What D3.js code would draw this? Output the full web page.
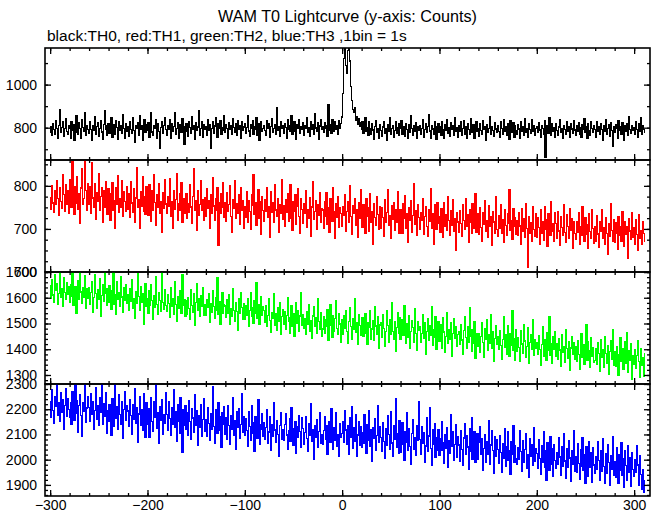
<!DOCTYPE html>
<html><head><meta charset="utf-8">
<script src="https://cdn.jsdelivr.net/npm/d3@7"></script>
<style>body{margin:0;background:#fff}svg{display:block}text{font-family:"Liberation Sans",Arial,Helvetica,sans-serif}</style>
</head><body><svg id="c" width="661" height="515"></svg>
<script>
const titleText = "WAM T0 Lightcurve (y-axis: Counts)";
const subtitleText = "black:TH0, red:TH1, green:TH2, blue:TH3 ,1bin = 1s";
const binStart = -300;
const binSize = 1;
const xDomain = [-305.3, 316.3];
const xMajorTicks = [-300, -200, -100, 0, 100, 200, 300];
const xMinorStep = 20;

const th0 = [
780,805,762,818,790,771,835,798,752,812,884,776,801,829,760,795,843,781,768,810,
797,752,826,789,813,741,804,858,779,770,822,795,748,836,801,784,869,763,808,791,
775,827,793,740,812,786,851,769,804,822,758,797,833,780,746,815,878,792,765,809,
821,773,799,847,757,790,814,768,835,801,744,826,787,809,772,862,795,751,818,783,
806,760,829,792,775,846,788,733,811,797,823,766,854,790,812,742,801,836,779,815,
788,824,757,802,871,780,766,810,795,839,752,818,784,706,800,829,774,811,847,790,
763,808,792,836,751,819,782,805,868,771,797,825,748,813,789,776,842,799,721,807,
818,785,760,829,802,774,851,793,811,747,822,786,803,881,766,798,830,757,814,791,
805,764,838,789,814,702,796,826,773,808,845,781,755,817,798,832,769,802,787,856,
779,813,796,751,824,791,808,767,842,800,777,819,762,835,794,811,748,827,786,803,
820,772,801,858,785,759,814,798,832,769,806,791,849,764,817,739,802,828,781,795,
810,787,766,833,799,821,754,806,842,776,798,815,770,893,789,804,761,826,797,812,
775,819,801,748,836,792,809,781,854,768,803,827,784,747,816,798,839,772,806,790,
823,765,811,797,846,780,802,759,829,793,814,771,866,799,785,822,744,808,836,791,
803,778,824,796,812,761,907,789,815,773,838,800,781,826,794,812,770,831,798,820,
850,960,1120,1190,1090,1050,1160,1195,1110,990,925,885,870,895,835,852,815,843,806,824,
791,830,775,812,846,784,801,763,826,795,770,818,789,744,807,832,779,797,752,814,
786,759,803,828,772,794,741,815,781,849,768,797,812,755,788,826,774,802,763,819,
795,832,770,807,784,759,821,792,748,813,779,857,798,766,809,784,825,751,803,788,
812,769,798,836,757,791,818,776,804,863,785,752,810,794,771,829,787,745,806,820,
778,803,764,827,793,749,815,787,838,772,799,759,824,790,811,766,847,783,801,757,
809,784,826,763,797,835,771,806,752,818,790,767,842,795,776,813,748,801,829,782,
796,758,819,787,771,834,792,806,743,815,780,798,852,769,803,786,760,823,794,777,
812,781,753,826,797,769,839,784,805,762,818,791,746,833,776,800,822,757,809,788,
771,815,794,750,828,785,803,766,841,779,798,757,818,790,774,836,782,809,764,797,
806,776,822,789,753,812,795,769,831,660,787,808,772,845,791,763,817,784,799,755,
820,786,764,803,838,777,795,751,812,790,769,827,783,806,757,819,794,772,834,789,
763,808,785,822,771,799,756,815,792,840,776,803,749,817,786,764,829,795,778,811,
790,754,826,781,803,767,818,793,742,809,785,836,771,798,815,760,824,788,712,806,
779,813,795,752,831,787,806,769,824,797,741,812,783,819,766,850,792,775,808,786,
802,768,829,791,755,817,784,846,770,811,793,776];

const th1 = [
772,745,801,760,738,789,756,812,770,731,795,764,748,826,779,741,803,758,790,736,
815,768,749,857,776,734,798,760,822,745,781,712,795,839,758,771,862,790,743,806,
757,798,735,853,772,749,806,721,784,763,829,742,775,797,716,788,751,810,769,734,
793,752,720,781,808,744,766,702,795,758,823,739,771,750,812,728,787,763,741,799,
746,781,727,809,760,738,794,715,772,843,749,767,701,786,752,821,740,775,733,798,
769,731,802,755,718,788,744,827,761,709,779,750,806,735,764,691,784,747,815,758,
737,774,752,816,729,763,701,789,745,768,829,720,758,783,742,807,714,771,753,736,
781,724,759,738,802,751,713,776,840,742,765,697,788,731,757,812,744,769,719,773,
728,793,747,765,701,779,736,818,753,720,771,744,797,662,760,735,782,749,807,726,
762,718,784,740,756,801,729,691,769,747,813,724,758,736,779,710,795,743,766,702,
751,727,786,714,765,740,698,779,754,826,733,761,709,748,792,725,763,687,774,742,
718,769,741,795,726,752,680,787,738,760,715,803,744,729,771,693,757,736,814,721,
755,706,768,739,781,717,749,802,724,696,763,741,779,710,752,794,728,689,770,745,
712,758,737,790,704,746,725,772,683,751,809,722,740,766,698,757,731,785,714,748,
744,701,763,729,784,711,750,692,771,736,718,797,740,679,758,727,775,703,749,736,
707,752,731,779,694,740,763,715,801,728,688,754,736,770,709,745,680,762,725,791,
738,703,757,722,689,771,730,749,694,783,716,741,665,758,727,709,776,733,698,752,
701,749,726,683,768,715,739,792,708,731,679,754,722,760,696,745,716,787,730,689,
745,712,690,758,724,777,701,736,668,749,720,766,693,731,806,711,742,684,757,726,
698,739,720,771,687,729,751,706,683,744,718,793,702,735,665,756,727,700,762,713,
729,693,748,715,680,761,707,734,697,776,719,684,742,709,768,695,723,651,738,716,
691,742,712,683,757,720,698,771,705,733,668,746,714,689,759,726,701,782,692,735,
724,687,749,703,672,738,711,766,694,720,680,753,707,729,662,741,716,690,775,698,
682,731,701,757,690,722,669,745,708,684,736,713,792,697,720,675,748,705,727,688,
719,684,738,707,665,747,694,723,680,759,701,611,729,690,714,671,752,699,683,735,
681,726,703,665,744,690,717,673,752,698,721,659,735,708,686,763,694,712,670,739,
712,679,741,695,662,728,704,686,757,691,669,733,706,678,748,697,723,655,716,689,
676,718,692,739,663,705,684,752,697,671,726,688,711,654,735,694,679,744,701,667,
705,672,731,688,657,716,694,746,679,702,663,727,690,641,712,683,758,696,670,721,
669,714,690,652,729,684,706,672,741,693,660,718,687,705,631,723,695,676,738,681,
702,664,721,687,650,733,678,697,665,716,689,672];

const th2 = [
1648,1597,1672,1611,1583,1690,1629,1655,1574,1618,1701,1602,1637,1566,1679,1621,1593,1660,1614,1645,
1583,1652,1606,1697,1571,1629,1644,1538,1612,1668,1595,1705,1622,1579,1641,1603,1687,1560,1634,1599,
1641,1576,1620,1663,1542,1601,1688,1615,1559,1632,1594,1676,1528,1610,1650,1587,1703,1618,1571,1636,
1582,1647,1603,1556,1629,1698,1574,1611,1537,1662,1592,1620,1568,1684,1603,1545,1639,1589,1652,1577,
1613,1549,1637,1586,1671,1560,1598,1521,1625,1579,1694,1604,1551,1642,1583,1617,1498,1596,1656,1568,
1597,1540,1626,1572,1653,1589,1514,1608,1563,1681,1575,1537,1619,1590,1548,1702,1583,1556,1631,1570,
1548,1611,1579,1523,1640,1566,1598,1535,1662,1574,1507,1603,1560,1627,1582,1541,1688,1569,1594,1528,
1589,1537,1602,1558,1514,1633,1571,1545,1617,1492,1580,1656,1549,1596,1526,1610,1567,1638,1531,1575,
1530,1592,1561,1618,1503,1577,1545,1629,1566,1519,1601,1552,1680,1537,1584,1498,1563,1620,1541,1573,
1568,1522,1593,1540,1611,1497,1559,1527,1634,1551,1509,1583,1546,1472,1597,1538,1620,1562,1515,1578,
1514,1570,1533,1598,1489,1552,1621,1526,1560,1502,1587,1541,1658,1519,1575,1497,1548,1603,1530,1566,
1549,1503,1571,1488,1530,1596,1512,1467,1544,1520,1615,1491,1538,1475,1562,1509,1583,1456,1527,1553,
1497,1545,1478,1531,1602,1510,1463,1524,1569,1489,1537,1448,1515,1583,1502,1551,1471,1529,1620,1493,
1536,1482,1519,1457,1547,1498,1575,1470,1513,1441,1529,1564,1490,1522,1463,1598,1507,1476,1541,1451,
1479,1527,1461,1515,1488,1553,1434,1505,1572,1493,1446,1531,1470,1518,1589,1482,1456,1540,1498,1425,
1516,1458,1531,1480,1549,1470,1423,1507,1562,1489,1437,1520,1476,1598,1465,1503,1418,1534,1491,1455,
1471,1523,1450,1498,1537,1462,1419,1505,1486,1552,1440,1479,1511,1433,1566,1490,1457,1528,1402,1494,
1502,1446,1533,1480,1411,1468,1549,1491,1427,1515,1458,1583,1470,1439,1506,1392,1485,1544,1463,1521,
1438,1489,1516,1452,1571,1477,1421,1498,1446,1530,1405,1469,1512,1483,1427,1559,1461,1394,1507,1474,
1487,1425,1462,1536,1441,1503,1379,1470,1519,1434,1491,1452,1564,1416,1478,1445,1527,1401,1466,1509,
1431,1495,1458,1404,1522,1467,1386,1449,1541,1423,1476,1437,1503,1372,1460,1518,1442,1489,1410,1456,
1468,1419,1497,1436,1381,1472,1528,1445,1403,1486,1428,1561,1450,1392,1477,1421,1508,1365,1459,1434,
1412,1459,1387,1448,1503,1425,1370,1481,1439,1516,1397,1456,1421,1534,1405,1467,1352,1443,1492,1418,
1449,1398,1471,1416,1362,1437,1525,1408,1455,1381,1490,1427,1373,1462,1414,1549,1395,1440,1356,1476,
1391,1446,1408,1353,1472,1420,1385,1497,1432,1369,1411,1483,1346,1425,1458,1399,1517,1375,1438,1402,
1427,1381,1452,1398,1339,1418,1489,1372,1436,1409,1358,1463,1394,1528,1377,1421,1346,1448,1401,1467,
1374,1423,1361,1441,1397,1335,1456,1389,1412,1350,1478,1402,1366,1431,1318,1405,1449,1380,1427,1359,
1410,1352,1434,1379,1323,1401,1462,1368,1419,1341,1386,1497,1357,1428,1394,1331,1445,1372,1407,1348,
1357,1403,1341,1426,1385,1312,1439,1370,1398,1329,1451,1382,1346,1415,1301,1391,1434,1360,1476,1338,
1389,1335,1412,1366,1298,1380,1447,1351,1403,1322,1374,1428,1345,1465,1310,1393,1356,1421,1284,1377,
1342,1398,1325,1376,1432,1351,1289,1404,1337,1369,1296,1385];

const th3 = [
2231,2168,2279,2196,2143,2252,2210,2305,2177,2226,2151,2264,2189,2238,2120,2215,2281,2172,2243,2198,
2166,2225,2140,2270,2201,2155,2298,2183,2236,2109,2214,2259,2175,2092,2228,2190,2302,2147,2205,2251,
2207,2152,2261,2178,2229,2119,2196,2287,2160,2213,2134,2248,2188,2306,2141,2222,2170,2265,2103,2194,
2150,2218,2171,2097,2244,2186,2132,2303,2163,2209,2121,2257,2179,2140,2232,2085,2198,2271,2155,2214,
2193,2131,2240,2174,2102,2219,2158,2283,2145,2206,2067,2181,2250,2136,2197,2118,2263,2172,2089,2226,
2138,2201,2087,2175,2246,2150,2113,2229,2169,2298,2124,2187,2065,2211,2156,2238,2099,2180,2145,2264,
2179,2118,2230,2164,2095,2207,2141,2276,2128,2191,2073,2220,2153,2106,2245,2167,2030,2198,2135,2213,
2120,2188,2097,2236,2150,2081,2202,2165,2109,2259,2137,2193,2058,2174,2126,2219,2091,2160,2243,2113,
2159,2094,2205,2142,2077,2184,2121,2290,2133,2066,2197,2150,2103,2228,2117,2171,2049,2186,2139,2212,
2101,2167,2082,2214,2135,2060,2176,2119,2245,2097,2154,2040,2189,2126,2203,2085,2141,2263,2110,2172,
2098,2163,2117,2054,2189,2132,2075,2214,2106,2148,2031,2170,2125,2086,2237,2141,2060,2119,2182,2093,
2145,2081,2128,2197,2063,2110,2172,2036,2139,2094,2226,2118,2069,2155,2101,2013,2134,2187,2079,2121,
2076,2139,2183,2098,2042,2117,2163,2071,2206,2125,2058,2094,2149,2024,2130,2087,2175,2112,2049,2168,
2123,2060,2108,2169,2085,2031,2142,2097,2224,2074,2118,2003,2135,2090,2157,2048,2112,2186,2066,2101,
2059,2116,2171,2082,2137,2020,2095,2150,2067,2203,2104,2041,2126,2078,2185,2053,2099,2012,2144,2087,
2104,2151,2070,2193,2118,2062,2137,2019,2165,2088,2211,2043,2126,2074,2180,2012,2098,2149,2057,2132,
2048,2109,2063,2178,2091,2025,2140,2076,2196,2052,2118,1994,2127,2083,2161,2036,2097,2215,2070,2131,
2089,2032,2147,2071,2005,2122,2058,2174,2099,2041,2190,2066,2013,2135,2080,2242,2049,2102,2024,2153,
2027,2094,2148,2061,1999,2113,2070,2186,2036,2125,2051,1982,2104,2159,2042,2088,2015,2137,2075,2229,
2079,2020,2133,2064,2107,1991,2054,2166,2031,2094,2206,2045,1976,2118,2060,2143,2008,2087,2038,2121,
2017,2084,2038,2152,2066,1985,2101,2046,2129,1970,2075,2023,2178,2052,2110,1996,2061,2139,2009,2092,
2058,1994,2115,2039,1977,2086,2143,2021,2097,2050,1962,2124,2034,2168,2003,2071,2112,1988,2046,2105,
2003,2067,2131,2019,2082,1958,2044,2101,1990,2073,2022,2156,1981,2058,2117,2036,1946,2090,2012,2079,
2041,1984,2095,2028,1951,2063,2007,2122,1973,2050,2110,1996,2036,1940,2072,2019,2135,1988,2057,2004,
1983,2049,2002,2116,2031,1955,2074,1990,2039,2104,1967,2021,1929,2085,2013,2058,1976,2127,1994,2043,
2026,1965,2081,2004,1942,2057,1988,2110,1971,2034,1919,2068,2015,1957,2092,1980,2043,1934,2061,1996,
1964,2030,1981,2088,2011,1938,2053,1972,2102,1995,1927,2044,1969,2076,2007,1915,2037,1983,2116,1952,
2011,1948,2063,1986,1921,2039,1975,2087,1956,2019,1904,2052,1992,1933,2071,1968,2028,1910,2046,1979,
1947,2014,1963,2071,1998,1916,2035,1952,2083,1974,1906,2026,1945,2058,1990,1899,2017,1961,2092,1938,
1994,1931,2046,1970,1905,2021,1957,2068,1939,2003,1889,2035,1976,1918,2057,1949,2010,1893,2029,1962,
1932,2001,1948,2054,1979,1897,2015,1940,1883,1962,1871,1918];

const seriesNames = ["TH0", "TH1", "TH2", "TH3"];
const seriesValues = [th0, th1, th2, th3];
const seriesColors = ["#000000", "#ff0000", "#00ff00", "#0000ff"];
const yDomains = [[650, 1170], [600, 860], [1265, 1700], [1856, 2300]];
const yMajorTicks = [[800, 1000], [600, 700, 800], [1300, 1400, 1500, 1600, 1700], [1900, 2000, 2100, 2200, 2300]];
const yMinorSteps = [100, 25, 20, 20];

(function draw() {
  const svg = d3.select("#c");
  const W = 661, H = 515;
  const pL = 45, pR = 650, pT = 48, panelH = 112;
  const x = d3.scaleLinear().domain(xDomain).range([pL, pR]);
  const xMinor = d3.range(Math.ceil(xDomain[0] / xMinorStep) * xMinorStep, xDomain[1], xMinorStep);

  svg.append("rect").attr("width", W).attr("height", H).attr("fill", "#fff");
  const defs = svg.append("defs");

  seriesValues.forEach((vals, p) => {
    const y0 = pT + p * panelH, y1 = y0 + panelH;
    const y = d3.scaleLinear().domain(yDomains[p]).range([y1, y0]);
    const cid = "clip" + p;
    defs.append("clipPath").attr("id", cid).append("rect")
      .attr("x", pL).attr("y", y0).attr("width", pR - pL).attr("height", panelH);

    const line = d3.line()
      .x((d, i) => x(binStart + i * binSize))
      .y(d => y(d))
      .curve(d3.curveStep);
    svg.append("path").datum(vals)
      .attr("clip-path", `url(#${cid})`)
      .attr("fill", "none").attr("stroke", seriesColors[p]).attr("stroke-width", 1.2)
      .attr("shape-rendering", "crispEdges")
      .attr("d", line);

    const g = svg.append("g").attr("class", "axes");
    const yMinor = d3.range(Math.ceil(yDomains[p][0] / yMinorSteps[p]) * yMinorSteps[p], yDomains[p][1] + 0.01, yMinorSteps[p]);

    g.append("g").attr("transform", `translate(${pL},0)`)
      .call(d3.axisLeft(y).tickValues(yMinor).tickSize(-3).tickFormat(""));
    g.append("g").attr("transform", `translate(${pL},0)`)
      .call(d3.axisLeft(y).tickValues(yMajorTicks[p]).tickSize(-6).tickPadding(8).tickFormat(d3.format("d")));
    g.append("g").attr("transform", `translate(${pR},0)`)
      .call(d3.axisRight(y).tickValues(yMinor).tickSize(-3).tickFormat(""));
    g.append("g").attr("transform", `translate(${pR},0)`)
      .call(d3.axisRight(y).tickValues(yMajorTicks[p]).tickSize(-6).tickFormat(""));
    g.append("g").attr("transform", `translate(0,${y0})`)
      .call(d3.axisTop(x).tickValues(xMinor).tickSize(-3).tickFormat(""));
    g.append("g").attr("transform", `translate(0,${y0})`)
      .call(d3.axisTop(x).tickValues(xMajorTicks).tickSize(-6).tickFormat(""));
    g.append("g").attr("transform", `translate(0,${y1})`)
      .call(d3.axisBottom(x).tickValues(xMinor).tickSize(-3).tickFormat(""));
    const last = p === seriesValues.length - 1;
    g.append("g").attr("transform", `translate(0,${y1})`)
      .call(d3.axisBottom(x).tickValues(xMajorTicks).tickSize(-6).tickPadding(4)
        .tickFormat(last ? (d => d < 0 ? "\u2212" + Math.abs(d) : String(d)) : ""));

    svg.append("rect").attr("x", pL).attr("y", y0).attr("width", pR - pL).attr("height", panelH)
      .attr("fill", "none").attr("stroke", "#000").attr("stroke-width", 1.6);
  });

  svg.selectAll(".axes .domain").remove();
  svg.selectAll(".axes .tick line").attr("stroke", "#000").attr("stroke-width", 1.3);
  svg.selectAll(".axes text").attr("fill", "#000").attr("font-size", 14)
    .attr("font-family", "'Liberation Sans', Arial, sans-serif");

  function fitText(sel, target) {
    const len = sel.node().getComputedTextLength();
    sel.attr("font-size", 14 * target / len);
  }
  const t1 = svg.append("text").attr("x", 347.5).attr("y", 22).attr("text-anchor", "middle")
    .attr("font-size", 14).attr("fill", "#000").text(titleText);
  fitText(t1, 259);
  const t2 = svg.append("text").attr("x", 47).attr("y", 41).attr("text-anchor", "start")
    .attr("font-size", 14).attr("fill", "#000").text(subtitleText);
  fitText(t2, 360);
})();
</script></body></html>
